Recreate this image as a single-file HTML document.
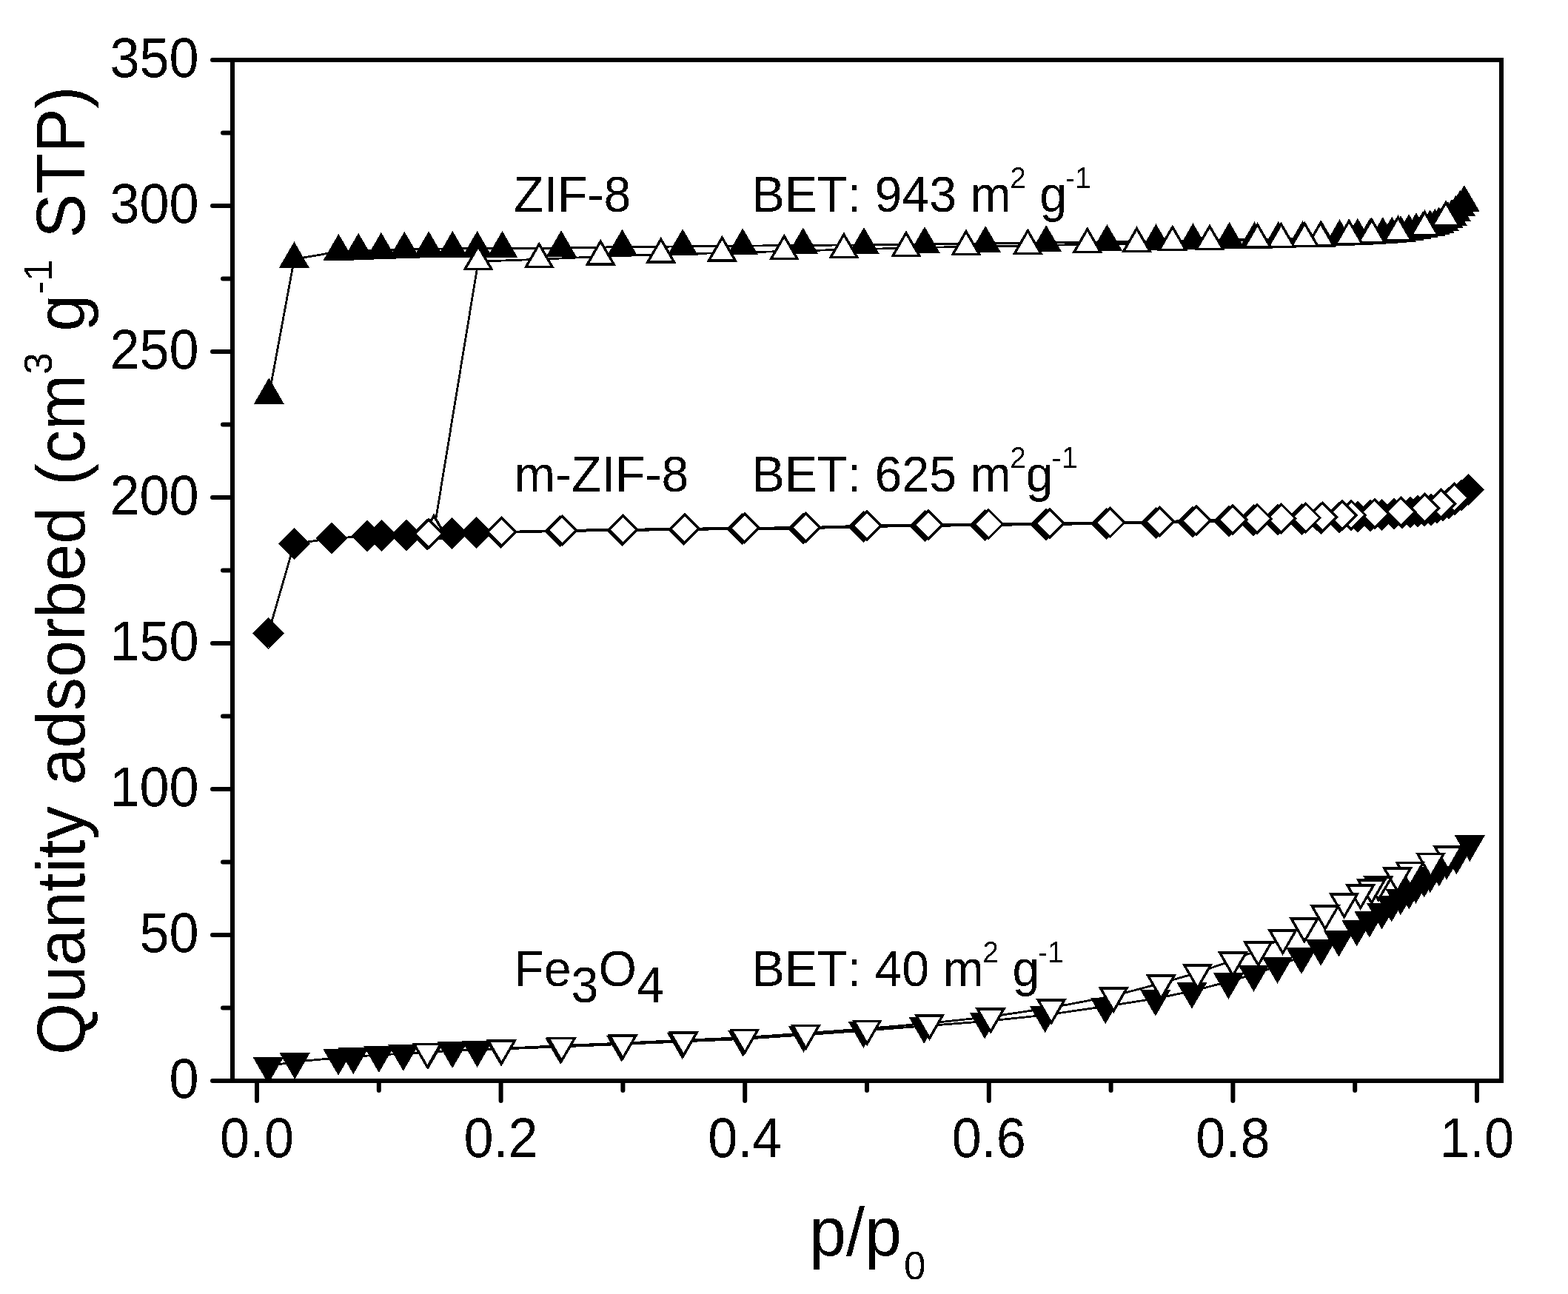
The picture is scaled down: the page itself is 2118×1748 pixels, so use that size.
<!DOCTYPE html>
<html lang="en">
<head>
<meta charset="utf-8">
<title>N2 adsorption isotherms</title>
<style>
html,body{margin:0;padding:0;background:#fff;}
body{width:2118px;height:1748px;overflow:hidden;}
svg{display:block;font-family:"Liberation Sans",sans-serif;fill:#000;font-kerning:none;}
.ln{fill:none;stroke:#000;stroke-width:2.8;stroke-linejoin:round;}
.f{fill:#000;stroke:#000;stroke-width:3.4;stroke-linejoin:miter;}
.o{fill:#fff;stroke:#000;stroke-width:3.4;stroke-linejoin:miter;}
</style>
</head>
<body>
<svg width="2118" height="1748" viewBox="0 0 2118 1748">
<rect width="2118" height="1748" fill="#fff"/>
<defs><clipPath id="frame"><rect x="311" y="78" width="1720" height="1385"/></clipPath><filter id="bw" x="0" y="0" width="2118" height="1748" filterUnits="userSpaceOnUse" color-interpolation-filters="sRGB"><feComponentTransfer><feFuncA type="discrete" tableValues="0 1"/></feComponentTransfer></filter></defs>
<g id="data" clip-path="url(#frame)" shape-rendering="crispEdges">
<polyline class="ln" points="363.3,534.3 397.4,350.2 457.4,339.8 484.2,338.7 514.9,337.7 546.3,336.6 579.1,336.2 611.3,335.8 644.6,335.8 678.5,335.8 758.1,335.1 840.5,333.5 922.1,333.0 1003.2,332.2 1084.8,331.3 1167.0,330.9 1249.0,329.9 1331.2,329.0 1413.2,328.0 1495.4,326.9 1561.5,326.2 1611.5,325.2 1660.6,323.8 1694.6,323.2 1726.9,322.7 1759.5,322.1 1784.7,321.4 1809.5,320.1 1833.9,318.7 1851.0,317.9 1867.8,317.1 1880.2,316.5 1892.0,314.9 1903.1,313.1 1913.0,311.1 1922.0,309.3 1931.7,307.2 1938.3,305.4 1943.7,303.2 1950.0,299.9 1956.0,296.4 1961.0,292.8 1966.4,287.5 1972.4,280.4 1977.9,273.9"/>
<polygon class="f" points="363.3,513.8 381.1,544.5 345.6,544.5"/>
<polygon class="f" points="397.4,329.7 415.1,360.4 379.6,360.4"/>
<polygon class="f" points="457.4,319.3 475.1,350.0 439.6,350.0"/>
<polygon class="f" points="484.2,318.2 501.9,348.9 466.4,348.9"/>
<polygon class="f" points="514.9,317.2 532.6,347.9 497.1,347.9"/>
<polygon class="f" points="546.3,316.1 564.0,346.8 528.5,346.8"/>
<polygon class="f" points="579.1,315.7 596.9,346.4 561.4,346.4"/>
<polygon class="f" points="611.3,315.3 629.0,346.0 593.5,346.0"/>
<polygon class="f" points="644.6,315.3 662.4,346.0 626.9,346.0"/>
<polygon class="f" points="678.5,315.3 696.2,346.0 660.8,346.0"/>
<polygon class="f" points="758.1,314.6 775.9,345.3 740.4,345.3"/>
<polygon class="f" points="840.5,313.0 858.2,343.7 822.8,343.7"/>
<polygon class="f" points="922.1,312.5 939.9,343.2 904.4,343.2"/>
<polygon class="f" points="1003.2,311.7 1021.0,342.4 985.5,342.4"/>
<polygon class="f" points="1084.8,310.8 1102.5,341.5 1067.0,341.5"/>
<polygon class="f" points="1167.0,310.4 1184.8,341.1 1149.2,341.1"/>
<polygon class="f" points="1249.0,309.4 1266.8,340.1 1231.2,340.1"/>
<polygon class="f" points="1331.2,308.5 1349.0,339.2 1313.5,339.2"/>
<polygon class="f" points="1413.2,307.5 1431.0,338.2 1395.5,338.2"/>
<polygon class="f" points="1495.4,306.4 1513.2,337.1 1477.7,337.1"/>
<polygon class="f" points="1561.5,305.7 1579.2,336.4 1543.8,336.4"/>
<polygon class="f" points="1611.5,304.7 1629.2,335.4 1593.8,335.4"/>
<polygon class="f" points="1660.6,303.3 1678.3,334.0 1642.8,334.0"/>
<polygon class="f" points="1694.6,302.7 1712.3,333.4 1676.8,333.4"/>
<polygon class="f" points="1726.9,302.2 1744.7,332.9 1709.2,332.9"/>
<polygon class="f" points="1759.5,301.6 1777.2,332.3 1741.8,332.3"/>
<polygon class="f" points="1784.7,300.9 1802.5,331.6 1767.0,331.6"/>
<polygon class="f" points="1809.5,299.6 1827.2,330.3 1791.8,330.3"/>
<polygon class="f" points="1833.9,298.2 1851.7,328.9 1816.2,328.9"/>
<polygon class="f" points="1851.0,297.4 1868.8,328.1 1833.2,328.1"/>
<polygon class="f" points="1867.8,296.6 1885.5,327.3 1850.0,327.3"/>
<polygon class="f" points="1880.2,296.0 1898.0,326.7 1862.5,326.7"/>
<polygon class="f" points="1892.0,294.4 1909.8,325.1 1874.2,325.1"/>
<polygon class="f" points="1903.1,292.6 1920.8,323.3 1885.3,323.3"/>
<polygon class="f" points="1913.0,290.6 1930.8,321.3 1895.2,321.3"/>
<polygon class="f" points="1922.0,288.8 1939.8,319.5 1904.2,319.5"/>
<polygon class="f" points="1931.7,286.7 1949.5,317.4 1914.0,317.4"/>
<polygon class="f" points="1938.3,284.9 1956.0,315.6 1920.5,315.6"/>
<polygon class="f" points="1943.7,282.7 1961.5,313.4 1926.0,313.4"/>
<polygon class="f" points="1950.0,279.4 1967.8,310.1 1932.2,310.1"/>
<polygon class="f" points="1956.0,275.9 1973.8,306.6 1938.2,306.6"/>
<polygon class="f" points="1961.0,272.3 1978.8,303.0 1943.2,303.0"/>
<polygon class="f" points="1966.4,267.0 1984.2,297.7 1948.7,297.7"/>
<polygon class="f" points="1972.4,259.9 1990.2,290.6 1954.7,290.6"/>
<polygon class="f" points="1977.9,253.4 1995.7,284.1 1960.2,284.1"/>
<polyline class="ln" points="1977.9,273.9 1953.0,294.2 1924.4,307.2 1888.4,314.2 1852.8,317.4 1822.2,319.1 1783.7,321.8 1762.2,322.3 1730.6,323.4 1698.5,323.8 1634.0,326.2 1583.8,327.2 1535.5,329.2 1468.8,330.1 1388.3,332.2 1304.9,333.2 1223.9,335.1 1139.9,337.2 1059.3,339.5 975.4,341.6 892.8,343.7 811.2,346.6 728.2,350.3 646.0,353.2 586.1,717.3"/>
<polygon class="o" points="1953.0,273.7 1970.8,304.4 1935.2,304.4"/>
<polygon class="o" points="1924.4,286.7 1942.2,317.4 1906.7,317.4"/>
<polygon class="o" points="1888.4,293.7 1906.2,324.4 1870.7,324.4"/>
<polygon class="o" points="1852.8,296.9 1870.5,327.6 1835.0,327.6"/>
<polygon class="o" points="1822.2,298.6 1840.0,329.3 1804.5,329.3"/>
<polygon class="o" points="1783.7,301.3 1801.5,332.0 1766.0,332.0"/>
<polygon class="o" points="1762.2,301.8 1780.0,332.5 1744.5,332.5"/>
<polygon class="o" points="1730.6,302.9 1748.3,333.6 1712.8,333.6"/>
<polygon class="o" points="1698.5,303.3 1716.2,334.0 1680.8,334.0"/>
<polygon class="o" points="1634.0,305.7 1651.8,336.4 1616.2,336.4"/>
<polygon class="o" points="1583.8,306.7 1601.5,337.4 1566.0,337.4"/>
<polygon class="o" points="1535.5,308.7 1553.2,339.4 1517.8,339.4"/>
<polygon class="o" points="1468.8,309.6 1486.5,340.3 1451.0,340.3"/>
<polygon class="o" points="1388.3,311.7 1406.0,342.4 1370.5,342.4"/>
<polygon class="o" points="1304.9,312.7 1322.7,343.4 1287.2,343.4"/>
<polygon class="o" points="1223.9,314.6 1241.7,345.3 1206.2,345.3"/>
<polygon class="o" points="1139.9,316.7 1157.7,347.4 1122.2,347.4"/>
<polygon class="o" points="1059.3,319.0 1077.0,349.7 1041.5,349.7"/>
<polygon class="o" points="975.4,321.1 993.1,351.8 957.6,351.8"/>
<polygon class="o" points="892.8,323.2 910.5,353.9 875.0,353.9"/>
<polygon class="o" points="811.2,326.1 829.0,356.8 793.5,356.8"/>
<polygon class="o" points="728.2,329.8 746.0,360.5 710.5,360.5"/>
<polygon class="o" points="646.0,332.7 663.8,363.4 628.2,363.4"/>
<polygon class="o" points="586.1,696.8 603.9,727.5 568.4,727.5"/>
<polyline class="ln" points="362.5,855.4 397.4,734.5 448.0,727.4 496.1,724.1 515.6,723.6 549.0,722.6 577.0,722.0 610.7,720.5 643.5,719.9 676.5,719.5 756.4,717.5 840.1,716.6 923.2,715.5 1002.7,714.6 1085.0,714.0 1166.8,711.5 1249.3,710.5 1330.9,709.6 1413.0,708.5 1494.5,707.6 1561.5,706.2 1610.8,705.0 1659.8,703.9 1693.3,702.8 1725.6,702.1 1758.9,701.5 1784.0,700.5 1809.0,699.3 1833.9,697.8 1851.0,696.5 1866.5,695.2 1883.1,694.2 1894.0,693.0 1905.0,691.6 1915.0,690.5 1924.0,689.6 1933.0,688.5 1941.0,686.0 1949.0,683.0 1957.0,679.5 1965.0,675.0 1974.0,669.0 1983.6,661.9"/>
<polygon class="f" points="362.5,836.3 381.6,855.4 362.5,874.5 343.4,855.4"/>
<polygon class="f" points="397.4,715.4 416.5,734.5 397.4,753.6 378.3,734.5"/>
<polygon class="f" points="448.0,708.3 467.1,727.4 448.0,746.5 428.9,727.4"/>
<polygon class="f" points="496.1,705.0 515.2,724.1 496.1,743.2 477.0,724.1"/>
<polygon class="f" points="515.6,704.5 534.7,723.6 515.6,742.7 496.5,723.6"/>
<polygon class="f" points="549.0,703.5 568.1,722.6 549.0,741.7 529.9,722.6"/>
<polygon class="f" points="577.0,702.9 596.1,722.0 577.0,741.1 557.9,722.0"/>
<polygon class="f" points="610.7,701.4 629.8,720.5 610.7,739.6 591.6,720.5"/>
<polygon class="f" points="643.5,700.8 662.6,719.9 643.5,739.0 624.4,719.9"/>
<polygon class="f" points="676.5,700.4 695.6,719.5 676.5,738.6 657.4,719.5"/>
<polygon class="f" points="756.4,698.4 775.5,717.5 756.4,736.6 737.3,717.5"/>
<polygon class="f" points="840.1,697.5 859.2,716.6 840.1,735.7 821.0,716.6"/>
<polygon class="f" points="923.2,696.4 942.3,715.5 923.2,734.6 904.1,715.5"/>
<polygon class="f" points="1002.7,695.5 1021.8,714.6 1002.7,733.7 983.6,714.6"/>
<polygon class="f" points="1085.0,694.9 1104.1,714.0 1085.0,733.1 1065.9,714.0"/>
<polygon class="f" points="1166.8,692.4 1185.9,711.5 1166.8,730.6 1147.7,711.5"/>
<polygon class="f" points="1249.3,691.4 1268.4,710.5 1249.3,729.6 1230.2,710.5"/>
<polygon class="f" points="1330.9,690.5 1350.0,709.6 1330.9,728.7 1311.8,709.6"/>
<polygon class="f" points="1413.0,689.4 1432.1,708.5 1413.0,727.6 1393.9,708.5"/>
<polygon class="f" points="1494.5,688.5 1513.6,707.6 1494.5,726.7 1475.4,707.6"/>
<polygon class="f" points="1561.5,687.1 1580.6,706.2 1561.5,725.3 1542.4,706.2"/>
<polygon class="f" points="1610.8,685.9 1629.9,705.0 1610.8,724.1 1591.7,705.0"/>
<polygon class="f" points="1659.8,684.8 1678.9,703.9 1659.8,723.0 1640.7,703.9"/>
<polygon class="f" points="1693.3,683.7 1712.4,702.8 1693.3,721.9 1674.2,702.8"/>
<polygon class="f" points="1725.6,683.0 1744.7,702.1 1725.6,721.2 1706.5,702.1"/>
<polygon class="f" points="1758.9,682.4 1778.0,701.5 1758.9,720.6 1739.8,701.5"/>
<polygon class="f" points="1784.0,681.4 1803.1,700.5 1784.0,719.6 1764.9,700.5"/>
<polygon class="f" points="1809.0,680.2 1828.1,699.3 1809.0,718.4 1789.9,699.3"/>
<polygon class="f" points="1833.9,678.7 1853.0,697.8 1833.9,716.9 1814.8,697.8"/>
<polygon class="f" points="1851.0,677.4 1870.1,696.5 1851.0,715.6 1831.9,696.5"/>
<polygon class="f" points="1866.5,676.1 1885.6,695.2 1866.5,714.3 1847.4,695.2"/>
<polygon class="f" points="1883.1,675.1 1902.2,694.2 1883.1,713.3 1864.0,694.2"/>
<polygon class="f" points="1894.0,673.9 1913.1,693.0 1894.0,712.1 1874.9,693.0"/>
<polygon class="f" points="1905.0,672.5 1924.1,691.6 1905.0,710.7 1885.9,691.6"/>
<polygon class="f" points="1915.0,671.4 1934.1,690.5 1915.0,709.6 1895.9,690.5"/>
<polygon class="f" points="1924.0,670.5 1943.1,689.6 1924.0,708.7 1904.9,689.6"/>
<polygon class="f" points="1933.0,669.4 1952.1,688.5 1933.0,707.6 1913.9,688.5"/>
<polygon class="f" points="1941.0,666.9 1960.1,686.0 1941.0,705.1 1921.9,686.0"/>
<polygon class="f" points="1949.0,663.9 1968.1,683.0 1949.0,702.1 1929.9,683.0"/>
<polygon class="f" points="1957.0,660.4 1976.1,679.5 1957.0,698.6 1937.9,679.5"/>
<polygon class="f" points="1965.0,655.9 1984.1,675.0 1965.0,694.1 1945.9,675.0"/>
<polygon class="f" points="1974.0,649.9 1993.1,669.0 1974.0,688.1 1954.9,669.0"/>
<polygon class="f" points="1983.6,642.8 2002.7,661.9 1983.6,681.0 1964.5,661.9"/>
<polyline class="ln" points="1983.6,661.9 1964.3,672.5 1946.3,680.5 1924.4,686.5 1892.4,691.2 1856.9,693.8 1825.2,695.8 1813.0,696.1 1786.4,698.2 1763.9,699.5 1730.6,700.2 1698.3,700.9 1664.8,702.1 1615.8,703.2 1566.5,704.5 1499.5,705.9 1418.0,706.9 1335.4,708.0 1253.8,709.0 1170.8,710.0 1088.5,712.6 1005.7,713.2 924.7,714.2 841.6,715.3 759.4,716.3 677.6,718.6 578.8,721.1"/>
<polygon class="o" points="1964.3,653.4 1983.4,672.5 1964.3,691.6 1945.2,672.5"/>
<polygon class="o" points="1946.3,661.4 1965.4,680.5 1946.3,699.6 1927.2,680.5"/>
<polygon class="o" points="1924.4,667.4 1943.5,686.5 1924.4,705.6 1905.3,686.5"/>
<polygon class="o" points="1892.4,672.1 1911.5,691.2 1892.4,710.3 1873.3,691.2"/>
<polygon class="o" points="1856.9,674.7 1876.0,693.8 1856.9,712.9 1837.8,693.8"/>
<polygon class="o" points="1825.2,676.7 1844.3,695.8 1825.2,714.9 1806.1,695.8"/>
<polygon class="o" points="1813.0,677.0 1832.1,696.1 1813.0,715.2 1793.9,696.1"/>
<polygon class="o" points="1786.4,679.1 1805.5,698.2 1786.4,717.3 1767.3,698.2"/>
<polygon class="o" points="1763.9,680.4 1783.0,699.5 1763.9,718.6 1744.8,699.5"/>
<polygon class="o" points="1730.6,681.1 1749.7,700.2 1730.6,719.3 1711.5,700.2"/>
<polygon class="o" points="1698.3,681.8 1717.4,700.9 1698.3,720.0 1679.2,700.9"/>
<polygon class="o" points="1664.8,683.0 1683.9,702.1 1664.8,721.2 1645.7,702.1"/>
<polygon class="o" points="1615.8,684.1 1634.9,703.2 1615.8,722.3 1596.7,703.2"/>
<polygon class="o" points="1566.5,685.4 1585.6,704.5 1566.5,723.6 1547.4,704.5"/>
<polygon class="o" points="1499.5,686.8 1518.6,705.9 1499.5,725.0 1480.4,705.9"/>
<polygon class="o" points="1418.0,687.8 1437.1,706.9 1418.0,726.0 1398.9,706.9"/>
<polygon class="o" points="1335.4,688.9 1354.5,708.0 1335.4,727.1 1316.3,708.0"/>
<polygon class="o" points="1253.8,689.9 1272.9,709.0 1253.8,728.1 1234.7,709.0"/>
<polygon class="o" points="1170.8,690.9 1189.9,710.0 1170.8,729.1 1151.7,710.0"/>
<polygon class="o" points="1088.5,693.5 1107.6,712.6 1088.5,731.7 1069.4,712.6"/>
<polygon class="o" points="1005.7,694.1 1024.8,713.2 1005.7,732.3 986.6,713.2"/>
<polygon class="o" points="924.7,695.1 943.8,714.2 924.7,733.3 905.6,714.2"/>
<polygon class="o" points="841.6,696.2 860.7,715.3 841.6,734.4 822.5,715.3"/>
<polygon class="o" points="759.4,697.2 778.5,716.3 759.4,735.4 740.3,716.3"/>
<polygon class="o" points="677.6,699.5 696.7,718.6 677.6,737.7 658.5,718.6"/>
<polygon class="o" points="578.8,702.0 597.9,721.1 578.8,740.2 559.7,721.1"/>
<polyline class="ln" points="362.3,1440.2 398.2,1434.2 457.0,1429.0 477.3,1427.2 511.8,1425.2 544.8,1423.0 578.0,1421.5 611.1,1419.2 644.6,1418.0 677.0,1417.0 757.0,1414.0 839.5,1410.5 921.5,1407.0 1003.5,1403.5 1085.5,1398.0 1166.4,1392.2 1248.2,1386.0 1330.2,1379.7 1411.7,1371.2 1493.2,1359.5 1560.8,1348.9 1610.0,1338.9 1659.4,1326.0 1693.5,1316.0 1725.5,1305.0 1758.0,1292.2 1784.2,1280.9 1808.4,1268.8 1832.7,1254.5 1849.8,1242.7 1866.6,1231.7 1879.7,1221.7 1891.9,1212.5 1903.3,1204.5 1912.5,1196.8 1923.7,1188.5 1931.8,1182.5 1943.9,1173.7 1954.0,1165.0 1967.4,1157.5 1985.3,1140.0"/>
<polygon class="f" points="362.3,1460.6 380.1,1429.9 344.6,1429.9"/>
<polygon class="f" points="398.2,1454.6 415.9,1423.9 380.4,1423.9"/>
<polygon class="f" points="457.0,1449.4 474.8,1418.7 439.2,1418.7"/>
<polygon class="f" points="477.3,1447.7 495.1,1417.0 459.6,1417.0"/>
<polygon class="f" points="511.8,1445.6 529.5,1414.9 494.1,1414.9"/>
<polygon class="f" points="544.8,1443.5 562.5,1412.8 527.0,1412.8"/>
<polygon class="f" points="578.0,1441.9 595.8,1411.2 560.2,1411.2"/>
<polygon class="f" points="611.1,1439.7 628.9,1409.0 593.4,1409.0"/>
<polygon class="f" points="644.6,1438.5 662.4,1407.8 626.9,1407.8"/>
<polygon class="f" points="677.0,1437.4 694.8,1406.7 659.2,1406.7"/>
<polygon class="f" points="757.0,1434.4 774.8,1403.7 739.2,1403.7"/>
<polygon class="f" points="839.5,1430.9 857.2,1400.2 821.8,1400.2"/>
<polygon class="f" points="921.5,1427.4 939.2,1396.7 903.8,1396.7"/>
<polygon class="f" points="1003.5,1423.9 1021.2,1393.2 985.8,1393.2"/>
<polygon class="f" points="1085.5,1418.4 1103.2,1387.7 1067.8,1387.7"/>
<polygon class="f" points="1166.4,1412.6 1184.2,1381.9 1148.7,1381.9"/>
<polygon class="f" points="1248.2,1406.4 1266.0,1375.7 1230.5,1375.7"/>
<polygon class="f" points="1330.2,1400.1 1348.0,1369.4 1312.5,1369.4"/>
<polygon class="f" points="1411.7,1391.7 1429.5,1361.0 1394.0,1361.0"/>
<polygon class="f" points="1493.2,1379.9 1511.0,1349.2 1475.5,1349.2"/>
<polygon class="f" points="1560.8,1369.3 1578.5,1338.6 1543.0,1338.6"/>
<polygon class="f" points="1610.0,1359.3 1627.8,1328.6 1592.2,1328.6"/>
<polygon class="f" points="1659.4,1346.4 1677.2,1315.7 1641.7,1315.7"/>
<polygon class="f" points="1693.5,1336.5 1711.2,1305.8 1675.8,1305.8"/>
<polygon class="f" points="1725.5,1325.5 1743.2,1294.8 1707.8,1294.8"/>
<polygon class="f" points="1758.0,1312.6 1775.8,1281.9 1740.2,1281.9"/>
<polygon class="f" points="1784.2,1301.3 1802.0,1270.6 1766.5,1270.6"/>
<polygon class="f" points="1808.4,1289.2 1826.2,1258.5 1790.7,1258.5"/>
<polygon class="f" points="1832.7,1274.9 1850.5,1244.2 1815.0,1244.2"/>
<polygon class="f" points="1849.8,1263.1 1867.5,1232.4 1832.0,1232.4"/>
<polygon class="f" points="1866.6,1252.1 1884.3,1221.4 1848.8,1221.4"/>
<polygon class="f" points="1879.7,1242.1 1897.5,1211.4 1862.0,1211.4"/>
<polygon class="f" points="1891.9,1232.9 1909.7,1202.2 1874.2,1202.2"/>
<polygon class="f" points="1903.3,1225.0 1921.0,1194.3 1885.5,1194.3"/>
<polygon class="f" points="1912.5,1217.2 1930.2,1186.5 1894.8,1186.5"/>
<polygon class="f" points="1923.7,1209.0 1941.5,1178.3 1906.0,1178.3"/>
<polygon class="f" points="1931.8,1202.9 1949.5,1172.2 1914.0,1172.2"/>
<polygon class="f" points="1943.9,1194.1 1961.7,1163.4 1926.2,1163.4"/>
<polygon class="f" points="1954.0,1185.4 1971.8,1154.7 1936.2,1154.7"/>
<polygon class="f" points="1967.4,1178.0 1985.2,1147.3 1949.7,1147.3"/>
<polygon class="f" points="1985.3,1160.5 2003.0,1129.8 1967.5,1129.8"/>
<polyline class="ln" points="1985.3,1140.0 1956.0,1154.2 1932.5,1163.5 1904.7,1175.5 1887.6,1183.2 1861.9,1195.0 1852.6,1199.2 1837.7,1206.0 1815.6,1218.2 1789.9,1234.2 1762.0,1251.2 1732.7,1267.0 1699.6,1283.2 1665.4,1297.2 1617.6,1314.0 1568.4,1328.2 1504.3,1345.2 1420.1,1361.2 1338.1,1373.4 1255.5,1382.2 1171.2,1389.5 1088.5,1395.7 1005.9,1401.5 923.3,1405.2 841.2,1409.0 758.6,1412.5 677.4,1416.4 577.3,1421.0"/>
<polygon class="o" points="1956.0,1174.7 1973.8,1144.0 1938.2,1144.0"/>
<polygon class="o" points="1932.5,1184.0 1950.2,1153.3 1914.8,1153.3"/>
<polygon class="o" points="1904.7,1195.9 1922.5,1165.2 1887.0,1165.2"/>
<polygon class="o" points="1887.6,1203.7 1905.3,1173.0 1869.8,1173.0"/>
<polygon class="o" points="1861.9,1215.5 1879.7,1184.8 1844.2,1184.8"/>
<polygon class="o" points="1852.6,1219.7 1870.3,1189.0 1834.8,1189.0"/>
<polygon class="o" points="1837.7,1226.5 1855.5,1195.8 1820.0,1195.8"/>
<polygon class="o" points="1815.6,1238.6 1833.3,1207.9 1797.8,1207.9"/>
<polygon class="o" points="1789.9,1254.7 1807.7,1224.0 1772.2,1224.0"/>
<polygon class="o" points="1762.0,1271.7 1779.8,1241.0 1744.2,1241.0"/>
<polygon class="o" points="1732.7,1287.5 1750.5,1256.8 1715.0,1256.8"/>
<polygon class="o" points="1699.6,1303.7 1717.3,1273.0 1681.8,1273.0"/>
<polygon class="o" points="1665.4,1317.6 1683.2,1286.9 1647.7,1286.9"/>
<polygon class="o" points="1617.6,1334.5 1635.3,1303.8 1599.8,1303.8"/>
<polygon class="o" points="1568.4,1348.6 1586.2,1317.9 1550.7,1317.9"/>
<polygon class="o" points="1504.3,1365.6 1522.0,1334.9 1486.5,1334.9"/>
<polygon class="o" points="1420.1,1381.7 1437.8,1351.0 1402.3,1351.0"/>
<polygon class="o" points="1338.1,1393.8 1355.8,1363.1 1320.3,1363.1"/>
<polygon class="o" points="1255.5,1402.6 1273.2,1371.9 1237.8,1371.9"/>
<polygon class="o" points="1171.2,1409.9 1189.0,1379.2 1153.5,1379.2"/>
<polygon class="o" points="1088.5,1416.1 1106.2,1385.4 1070.8,1385.4"/>
<polygon class="o" points="1005.9,1422.0 1023.6,1391.3 988.1,1391.3"/>
<polygon class="o" points="923.3,1425.7 941.0,1395.0 905.5,1395.0"/>
<polygon class="o" points="841.2,1429.5 859.0,1398.8 823.5,1398.8"/>
<polygon class="o" points="758.6,1433.0 776.4,1402.3 740.9,1402.3"/>
<polygon class="o" points="677.4,1436.8 695.1,1406.1 659.6,1406.1"/>
<polygon class="o" points="577.3,1441.4 595.0,1410.7 559.5,1410.7"/>
</g>
<g id="axes" stroke="#000" stroke-width="6" fill="none" stroke-linecap="round">
<path stroke-linecap="butt" d="M314 81 V1460"/>
<path stroke-linecap="butt" d="M2028 78 V1463"/>
<path stroke-linecap="butt" d="M314 81 H2031"/>
<path stroke-linecap="butt" d="M314 1460 H2031"/>
<path d="M287 1460.0 H314"/>
<path d="M301 1361.5 H314"/>
<path d="M287 1263.0 H314"/>
<path d="M301 1164.5 H314"/>
<path d="M287 1066.0 H314"/>
<path d="M301 967.5 H314"/>
<path d="M287 869.0 H314"/>
<path d="M301 770.5 H314"/>
<path d="M287 672.0 H314"/>
<path d="M301 573.5 H314"/>
<path d="M287 475.0 H314"/>
<path d="M301 376.5 H314"/>
<path d="M287 278.0 H314"/>
<path d="M301 179.5 H314"/>
<path d="M287 81.0 H314"/>
<path d="M347.0 1460 V1487"/>
<path d="M511.8 1460 V1473"/>
<path d="M676.6 1460 V1487"/>
<path d="M841.4 1460 V1473"/>
<path d="M1006.2 1460 V1487"/>
<path d="M1171.0 1460 V1473"/>
<path d="M1335.8 1460 V1487"/>
<path d="M1500.6 1460 V1473"/>
<path d="M1665.4 1460 V1487"/>
<path d="M1830.2 1460 V1473"/>
<path d="M1995.0 1460 V1487"/>
</g>
<g id="text" filter="url(#bw)">
<g id="ticks">
<text transform="translate(268.5 1482.8) scale(1 1.050)" font-size="72" text-anchor="end">0</text>
<text transform="translate(268.5 1285.8) scale(1 1.050)" font-size="72" text-anchor="end">50</text>
<text transform="translate(268.5 1088.8) scale(1 1.050)" font-size="72" text-anchor="end">100</text>
<text transform="translate(268.5 891.8) scale(1 1.050)" font-size="72" text-anchor="end">150</text>
<text transform="translate(268.5 694.8) scale(1 1.050)" font-size="72" text-anchor="end">200</text>
<text transform="translate(268.5 497.8) scale(1 1.050)" font-size="72" text-anchor="end">250</text>
<text transform="translate(268.5 300.8) scale(1 1.050)" font-size="72" text-anchor="end">300</text>
<text transform="translate(268.5 103.8) scale(1 1.050)" font-size="72" text-anchor="end">350</text>
<text transform="translate(347.0 1562.8) scale(1 1.050)" font-size="72" text-anchor="middle">0.0</text>
<text transform="translate(676.6 1562.8) scale(1 1.050)" font-size="72" text-anchor="middle">0.2</text>
<text transform="translate(1006.2 1562.8) scale(1 1.050)" font-size="72" text-anchor="middle">0.4</text>
<text transform="translate(1335.8 1562.8) scale(1 1.050)" font-size="72" text-anchor="middle">0.6</text>
<text transform="translate(1665.4 1562.8) scale(1 1.050)" font-size="72" text-anchor="middle">0.8</text>
<text transform="translate(1995.0 1562.8) scale(1 1.050)" font-size="72" text-anchor="middle">1.0</text>
</g>
<g id="labels">
<text transform="translate(694.0 286.2) scale(1 1.040)" font-size="66.3" text-anchor="start">ZIF-8</text>
<text transform="translate(1015.7 286.2) scale(1 1.040)" font-size="66.3" text-anchor="start">BET: 943 m<tspan font-size="39" dy="-30.6" dx="-1.5">2</tspan><tspan dy="30.6"> g</tspan><tspan font-size="39" dy="-30.6" dx="-2">-1</tspan></text>
<text transform="translate(694.7 664.1) scale(1 1.040)" font-size="66.3" text-anchor="start">m-ZIF-8</text>
<text transform="translate(1015.7 664.0) scale(1 1.040)" font-size="66.3" text-anchor="start">BET: 625 m<tspan font-size="39" dy="-30.6" dx="-1.5">2</tspan><tspan dy="30.6">g</tspan><tspan font-size="39" dy="-30.6" dx="-2">-1</tspan></text>
<text transform="translate(694.2 1332.0) scale(1 1.040)" font-size="66.3" text-anchor="start">Fe<tspan dy="20.7">3</tspan><tspan dy="-20.7">O</tspan><tspan dy="20.7">4</tspan></text>
<text transform="translate(1015.7 1331.8) scale(1 1.040)" font-size="66.3" text-anchor="start">BET: 40 m<tspan font-size="39" dy="-30.6" dx="-1.5">2</tspan><tspan dy="30.6"> g</tspan><tspan font-size="39" dy="-30.6" dx="-2">-1</tspan></text>
</g>
<g id="titles">
<text id="ytitle" transform="translate(113.8 1425) rotate(-90) scale(1 1.020)" font-size="90.2" word-spacing="3.5">Quantity adsorbed (cm<tspan font-size="53" dy="-43.4">3</tspan><tspan dy="43.4"> g</tspan><tspan font-size="53" dy="-43.4">-1</tspan><tspan dy="43.4"> STP)</tspan></text>
<text transform="translate(1093.0 1695.6) scale(1 1.020)" font-size="90" text-anchor="start" id="xtitle">p/p<tspan font-size="53" dy="31.8" dx="3">0</tspan></text>
</g>
</g>
</svg>
</body>
</html>
